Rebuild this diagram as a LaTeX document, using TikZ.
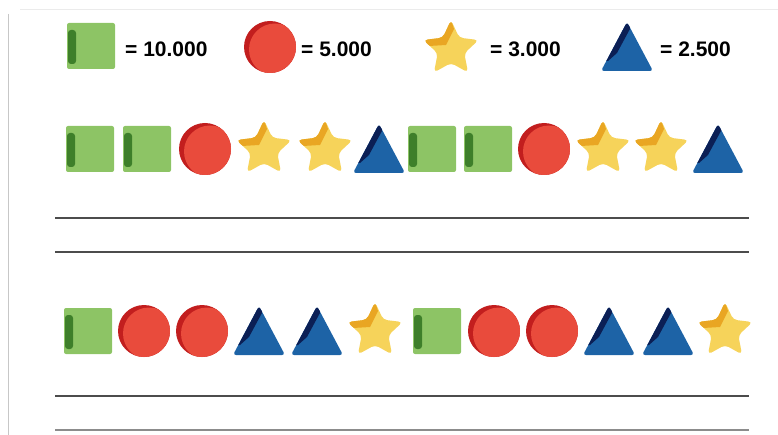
\documentclass[tikz,border=0pt]{standalone}
\usepackage{fontspec}
\setmainfont{Liberation Sans}
\usepackage{xcolor}
\usetikzlibrary{positioning}

\definecolor{grn}{HTML}{8DC465}
\definecolor{dkgrn}{HTML}{3E7F2A}
\definecolor{rd}{HTML}{E94B3C}
\definecolor{dkrd}{HTML}{C21E1E}
\definecolor{ylw}{HTML}{F6D35A}
\definecolor{org}{HTML}{E9A623}
\definecolor{blu}{HTML}{1D63A6}
\definecolor{navy}{HTML}{0B1F55}

\begin{document}
\begin{tikzpicture}[x=1pt, y=-1pt,
  val/.style={font=\fontsize{21}{21}\selectfont\bfseries, anchor=west, inner sep=0pt},
  ruled/.style={draw=black!70, line width=1.3pt},
  gblock/.pic={
    \fill[grn, rounded corners=2pt] (-24,-23) rectangle (24,23);
    \fill[dkgrn, rounded corners=3pt] (-23,-16) rectangle (-15,18);
  },
  rdisc/.pic={
    \begin{scope}
      \clip (0,0) circle (26);
      \fill[dkrd] (-27,-27) rectangle (27,27);
      \fill[rd] (5,2.5) circle (26);
    \end{scope}
  },
  ystar/.pic={
    \fill[ylw, rounded corners=4pt] (-90:29) -- (-54:14) -- (-18:29) -- (18:14) -- (54:29)
      -- (90:14) -- (126:29) -- (162:14) -- (198:29) -- (234:14) -- cycle;
    \begin{scope}
      \clip[rounded corners=4pt] (-90:29) -- (-54:14) -- (-18:29) -- (18:14) -- (54:29)
        -- (90:14) -- (126:29) -- (162:14) -- (198:29) -- (234:14) -- cycle;
      \fill[org] (-1,-32) -- (-11,-12) -- (-32,-10) -- (-22,-3) -- (-5,-4) -- (3,-20) -- cycle;
    \end{scope}
  },
  btri/.pic={
    \fill[blu, rounded corners=3pt] (0,-25) -- (26,24) -- (-26,24) -- cycle;
    \begin{scope}
      \clip[rounded corners=3pt] (0,-25) -- (26,24) -- (-26,24) -- cycle;
      \fill[navy] (-1,-30) -- (4,-20) -- (-10,6) -- (-19,14) -- (-32,14) -- cycle;
    \end{scope}
  }]
\useasboundingbox (0,0) rectangle (778,435);
% --- sheet edges ---
\draw[black!22, line width=1pt] (8,14) -- (8,435);
\draw[black!8, line width=1pt] (20,10) -- (778,10);
% --- legend ---
\pic (kblock) at (91,46) {gblock};
\node[val] (kblocktxt) at (125,49) {= 10.000};
\pic (kdisc) at (270,47) {rdisc};
\node[val] (kdisctxt) at (301,49) {= 5.000};
\pic (kstar) at (451,49) {ystar};
\node[val] (kstartxt) at (490,49) {= 3.000};
\pic (ktri) at (627,47) {btri};
\node[val] (ktritxt) at (660,49) {= 2.500};
% --- first pattern ---
\foreach \s/\x [count=\i] in {gblock/90, gblock/147, rdisc/205, ystar/264, ystar/325, btri/379,
                               gblock/432, gblock/488, rdisc/544, ystar/603, ystar/661, btri/718}
  \pic (one\i) at (\x,149) {\s};
\draw[ruled] (55,218) -- (749,218);
\draw[ruled] (55,252) -- (749,252);
% --- second pattern ---
\foreach \s/\x [count=\i] in {gblock/88, rdisc/144, rdisc/202, btri/259, btri/317, ystar/375,
                               gblock/437, rdisc/494, rdisc/552, btri/609, btri/668, ystar/725}
  \pic (two\i) at (\x,331) {\s};
\draw[ruled] (55,396) -- (749,396);
\draw[ruled, draw=black!45] (55,430) -- (749,430);
\end{tikzpicture}
\end{document}
